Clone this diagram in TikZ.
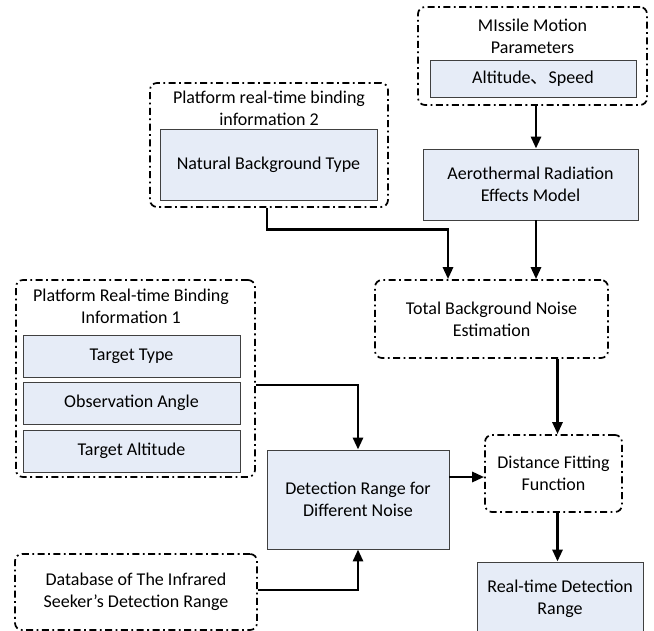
\documentclass[tikz,border=0pt]{standalone}
\usepackage{fontspec}
\setmainfont{Carlito}
\newfontfamily\cjk{Noto Sans CJK SC}
\usetikzlibrary{arrows.meta}
\definecolor{boxfill}{RGB}{230,236,247}
\begin{document}
\begin{tikzpicture}[x=1bp,y=-1bp,
  font=\fontsize{18bp}{22bp}\selectfont,
  group/.style={draw=black, line width=1.7bp, dash pattern=on 7bp off 3.5bp on 1.8bp off 3.5bp, rounded corners=7bp, inner sep=0, align=center},
  box/.style={draw=black!75, line width=0.9bp, fill=boxfill, inner sep=0, align=center},
  lbl/.style={align=center, inner sep=0},
  arr/.style={line width=2.8bp, -{Triangle[length=12bp,width=10bp]}}]
\useasboundingbox (0,0) rectangle (654,631);
% Missile group
\node[group, minimum width=229bp, minimum height=98bp] (mg) at (532.5,56) {};
\node[lbl] (mt) at (532.5,36) {MIssile Motion\\Parameters};
\node[box, minimum width=206bp, minimum height=37bp] (alt) at (533,78.5) {Altitude{\cjk 、}Speed};
\node[box, minimum width=215bp, minimum height=71bp] (aero) at (530.5,184.5) {Aerothermal Radiation\\Effects Model};
% Platform 2
\node[group, minimum width=238bp, minimum height=124bp] (p2) at (269,145) {};
\node[lbl] (p2t) at (269,108) {Platform real-time binding\\information 2};
\node[box, minimum width=217bp, minimum height=71bp] (nat) at (268.5,164.5) {Natural Background Type};
% Total
\node[group, minimum width=233bp, minimum height=78bp] (tot) at (491.5,319) {Total Background Noise\\Estimation};
% Platform 1
\node[group, minimum width=239bp, minimum height=197bp] (p1) at (135.5,378.5) {};
\node[lbl] (p1t) at (131,306) {Platform Real-time Binding\\Information 1};
\node[box, minimum width=217bp, minimum height=42bp] (tt) at (131.5,356) {Target Type};
\node[box, minimum width=217bp, minimum height=42bp] (oa) at (131.5,403) {Observation Angle};
\node[box, minimum width=217bp, minimum height=42bp] (ta) at (131.5,451) {Target Altitude};
% Detection
\node[box, minimum width=182bp, minimum height=99bp] (det) at (358,499.5) {Detection Range for\\Different Noise};
\node[group, minimum width=137bp, minimum height=77bp] (dist) at (553.5,473.5) {Distance Fitting\\Function};
\node[box, minimum width=166bp, minimum height=73bp] (rt) at (560,598.5) {Real-time Detection\\Range};
\node[group, minimum width=242bp, minimum height=76bp] (db) at (136,592) {Database of The Infrared\\Seeker’s Detection Range};
% Connectors
\draw[arr] ([xshift=3.5bp]mg.south) -- ([xshift=3.5bp]mg.south |- aero.north);
\draw[arr] ([xshift=-2bp]p2.south) -- ++(0,22) -| ([xshift=-43.5bp]tot.north);
\draw[arr] ([xshift=5.5bp]aero.south) -- ([xshift=5.5bp]aero.south |- tot.north);
\draw[arr] ([xshift=4bp]dist.north |- tot.south) -- ([xshift=4bp]dist.north);
\draw[arr] ([yshift=-6.5bp]p1.east) -| (det.north);
\draw[arr] ([yshift=22.5bp]det.east) -- ([yshift=22.5bp]det.east -| dist.west);
\draw[arr] ([yshift=2bp]db.east) -| (det.south);
\draw[arr] ([xshift=4bp]dist.south) -- ([xshift=4bp]dist.south |- rt.north);
\end{tikzpicture}
\end{document}
